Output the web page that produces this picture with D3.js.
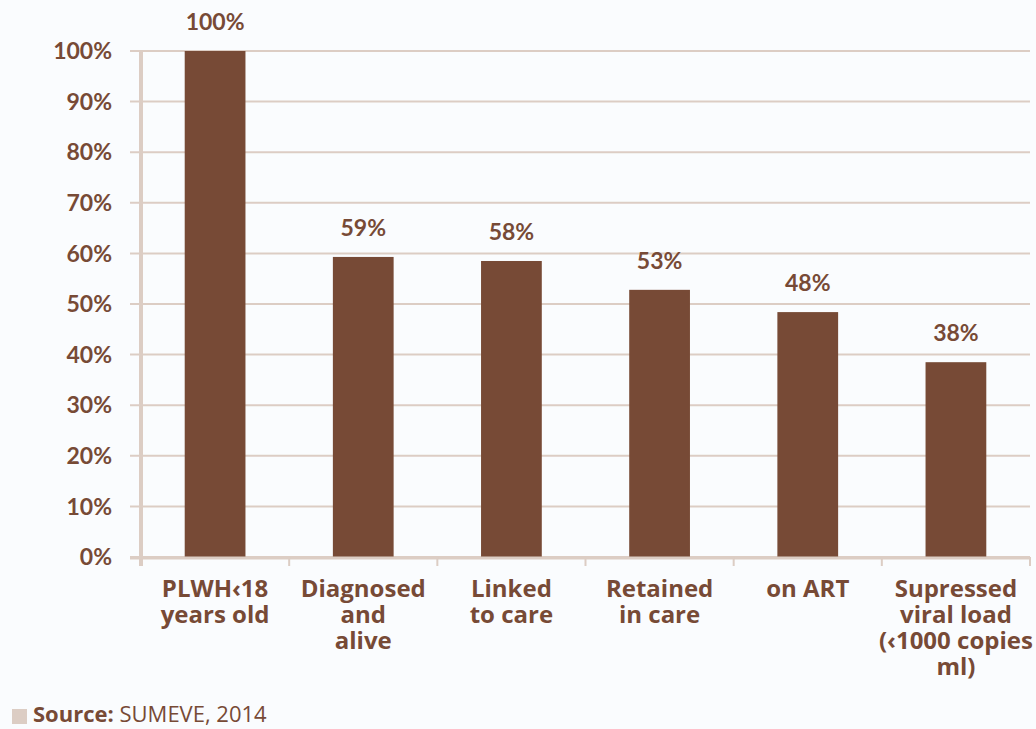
<!DOCTYPE html>
<html>
<head>
<meta charset="utf-8">
<script src="https://cdn.jsdelivr.net/npm/d3@7"></script>
<style>
  body { margin: 0; background: #fafcfe; }
  svg { display: block; }
</style>
</head>
<body>
<script>
// chart data
var categories = [
  ["PLWH\u203918", "years old"],
  ["Diagnosed", "and", "alive"],
  ["Linked", "to care"],
  ["Retained", "in care"],
  ["on ART"],
  ["Supressed", "viral load", "(\u20391000 copies", "ml)"]
];
var values = [100, 59.3, 58.5, 52.8, 48.4, 38.5];
var valueLabels = ["100%", "59%", "58%", "53%", "48%", "38%"];
var yTicks = [0, 10, 20, 30, 40, 50, 60, 70, 80, 90, 100];

var width = 1036, height = 729;
var margin = {left: 141, right: 6, top: 51, bottom: 172};
var brown = "#774a36", grid = "#dccdc4";

var svg = d3.select("body").append("svg")
  .attr("width", width)
  .attr("height", height);

var x = d3.scaleBand()
  .domain(d3.range(categories.length))
  .range([margin.left, width - margin.right])
  .paddingInner(0.59)
  .paddingOuter(0.295);

var y = d3.scaleLinear()
  .domain([0, 100])
  .range([height - margin.bottom, margin.top]);

// gridlines
svg.append("g")
  .selectAll("line")
  .data(yTicks)
  .enter()
  .append("line")
  .attr("x1", 130)
  .attr("x2", width - margin.right)
  .attr("y1", function(d) { return y(d); })
  .attr("y2", function(d) { return y(d); })
  .attr("stroke", grid)
  .attr("stroke-width", 2);

// y tick labels
svg.append("g")
  .selectAll("text")
  .data(yTicks)
  .enter()
  .append("text")
  .attr("x", 112)
  .attr("y", function(d) { return y(d); })
  .attr("dy", "0.36em")
  .attr("text-anchor", "end")
  .attr("fill", brown)
  .style("font-family", "Lato, 'Open Sans', sans-serif")
  .style("font-weight", "bold")
  .style("font-size", "23px")
  .text(function(d) { return d + "%"; });

// bars
svg.append("g")
  .selectAll("rect")
  .data(values)
  .enter()
  .append("rect")
  .attr("x", function(d, i) { return x(i); })
  .attr("width", x.bandwidth())
  .attr("y", function(d) { return y(d); })
  .attr("height", function(d) { return y(0) - y(d); })
  .attr("fill", brown);

// value labels
svg.append("g")
  .selectAll("text")
  .data(values)
  .enter()
  .append("text")
  .attr("x", function(d, i) { return x(i) + x.bandwidth() / 2; })
  .attr("y", function(d) { return y(d) - 21; })
  .attr("text-anchor", "middle")
  .attr("fill", brown)
  .style("font-family", "Lato, 'Open Sans', sans-serif")
  .style("font-weight", "bold")
  .style("font-size", "23px")
  .text(function(d, i) { return valueLabels[i]; });

// x axis line and ticks
var step = x.step();
var tickXs = d3.range(categories.length + 1).map(function(i) {
  return margin.left + i * step;
});
svg.append("line")
  .attr("x1", 130)
  .attr("x2", width - margin.right)
  .attr("y1", y(0) + 1)
  .attr("y2", y(0) + 1)
  .attr("stroke", grid)
  .attr("stroke-width", 3);
svg.append("g")
  .selectAll("line")
  .data(tickXs.slice(1))
  .enter()
  .append("line")
  .attr("x1", function(d) { return d; })
  .attr("x2", function(d) { return d; })
  .attr("y1", y(0))
  .attr("y2", y(0) + 9)
  .attr("stroke", grid)
  .attr("stroke-width", 2);

// y axis line
svg.append("line")
  .attr("x1", margin.left)
  .attr("x2", margin.left)
  .attr("y1", margin.top)
  .attr("y2", y(0) + 9)
  .attr("stroke", grid)
  .attr("stroke-width", 4);

// category labels
var catLabels = svg.append("g")
  .selectAll("text")
  .data(categories)
  .enter()
  .append("text")
  .attr("text-anchor", "middle")
  .attr("fill", brown)
  .style("font-family", "'Open Sans', sans-serif")
  .style("font-weight", "bold")
  .style("font-size", "24px");

catLabels.selectAll("tspan")
  .data(function(d, i) {
    return d.map(function(line) { return {line: line, i: i}; });
  })
  .enter()
  .append("tspan")
  .attr("x", function(d) { return x(d.i) + x.bandwidth() / 2; })
  .attr("y", function(d, j) { return 597 + j * 26; })
  .text(function(d) { return d.line; });

// source note
svg.append("rect")
  .attr("x", 12)
  .attr("y", 709)
  .attr("width", 15)
  .attr("height", 15)
  .attr("fill", grid);
var src = svg.append("text")
  .attr("x", 33)
  .attr("y", 722)
  .attr("fill", brown)
  .style("font-family", "'Open Sans', sans-serif")
  .style("font-size", "22px");
src.append("tspan").style("font-weight", "bold").text("Source: ");
src.append("tspan").text("SUMEVE, 2014");
</script>
</body>
</html>
